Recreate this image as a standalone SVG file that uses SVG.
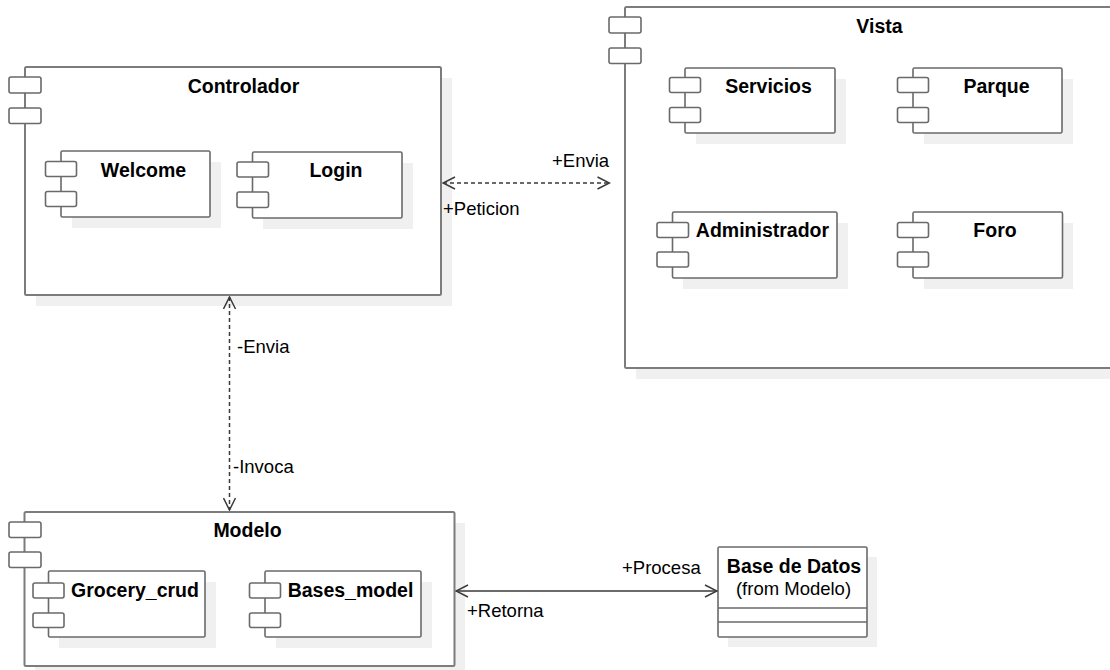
<svg xmlns="http://www.w3.org/2000/svg" width="1110" height="670" viewBox="0 0 1110 670">
  <defs>
    <style>
      .shadow { fill: #f0f0f0; stroke: none; }
      .outer { fill: #ffffff; stroke: #7c7c7c; stroke-width: 2; }
      .inner { fill: #ffffff; stroke: #6a6a6a; stroke-width: 1.6; }
      .icon { fill: #ffffff; stroke: #6a6a6a; stroke-width: 1.6; }
      .title { font-family: "Liberation Sans", Arial, sans-serif; font-weight: bold; font-size: 19.5px; fill: #000; text-anchor: middle; }
      .label { font-family: "Liberation Sans", Arial, sans-serif; font-size: 18.5px; fill: #000; }
      .dep { fill: none; stroke: #3a3a3a; stroke-width: 1.5; stroke-dasharray: 4 3; }
      .assoc { fill: none; stroke: #3a3a3a; stroke-width: 1.5; }
      .head { fill: none; stroke: #3a3a3a; stroke-width: 1.5; }
    </style>
    <marker id="open" viewBox="0 0 14 14" refX="13" refY="7" markerWidth="14" markerHeight="14" markerUnits="userSpaceOnUse" orient="auto-start-reverse">
      <path d="M1,1 L13,7 L1,13" class="head"/>
    </marker>
  </defs>

  <!-- Controlador package -->
  <g id="controlador">
    <rect class="shadow" x="36" y="78" width="416" height="228"/>
    <rect class="outer" x="25" y="67" width="416" height="228" rx="1.5"/>
    <rect class="icon" x="9" y="77" width="32" height="16" rx="2"/>
    <rect class="icon" x="9" y="108" width="32" height="15.5" rx="2"/>
    <text class="title" x="243.5" y="93">Controlador</text>
  </g>
  <g id="welcome">
    <rect class="shadow" x="72" y="162" width="149" height="66"/>
    <rect class="inner" x="61" y="151" width="149" height="66" rx="1.5"/>
    <rect class="icon" x="45.5" y="161.5" width="31" height="15" rx="2"/>
    <rect class="icon" x="45.5" y="191.5" width="31" height="15" rx="2"/>
    <text class="title" x="143.5" y="177">Welcome</text>
  </g>
  <g id="login">
    <rect class="shadow" x="263" y="163" width="150" height="66"/>
    <rect class="inner" x="252.5" y="152" width="149.5" height="66" rx="1.5"/>
    <rect class="icon" x="237" y="162" width="31.5" height="15" rx="2"/>
    <rect class="icon" x="237" y="192" width="31.5" height="15.5" rx="2"/>
    <text class="title" x="336" y="177">Login</text>
  </g>

  <!-- Vista package -->
  <g id="vista">
    <rect class="shadow" x="636" y="18" width="500" height="361"/>
    <rect class="outer" x="625" y="7" width="500" height="361" rx="1.5"/>
    <rect class="icon" x="609" y="17" width="32" height="16" rx="2"/>
    <rect class="icon" x="609" y="48" width="32" height="15.5" rx="2"/>
    <text class="title" x="879.5" y="33">Vista</text>
  </g>
  <g id="servicios">
    <rect class="shadow" x="696" y="79" width="150" height="65"/>
    <rect class="inner" x="685" y="68" width="150" height="65" rx="1.5"/>
    <rect class="icon" x="669.5" y="77.5" width="31" height="15" rx="2"/>
    <rect class="icon" x="669.5" y="107.5" width="31" height="15" rx="2"/>
    <text class="title" x="768.5" y="93">Servicios</text>
  </g>
  <g id="parque">
    <rect class="shadow" x="924" y="79" width="149" height="65"/>
    <rect class="inner" x="913" y="68" width="149" height="65" rx="1.5"/>
    <rect class="icon" x="897.5" y="77.5" width="31" height="15" rx="2"/>
    <rect class="icon" x="897.5" y="107.5" width="31" height="15" rx="2"/>
    <text class="title" x="996.5" y="93">Parque</text>
  </g>
  <g id="administrador">
    <rect class="shadow" x="683" y="223" width="165" height="66"/>
    <rect class="inner" x="672.5" y="212" width="164.5" height="66" rx="1.5"/>
    <rect class="icon" x="657" y="222.5" width="31.5" height="15" rx="2"/>
    <rect class="icon" x="657" y="252" width="31.5" height="15" rx="2"/>
    <text class="title" x="762.5" y="237">Administrador</text>
  </g>
  <g id="foro">
    <rect class="shadow" x="924" y="223" width="149" height="66"/>
    <rect class="inner" x="913" y="212" width="149.5" height="66" rx="1.5"/>
    <rect class="icon" x="897.5" y="222.5" width="31" height="15" rx="2"/>
    <rect class="icon" x="897.5" y="252" width="31" height="15" rx="2"/>
    <text class="title" x="995" y="237">Foro</text>
  </g>

  <!-- Modelo package -->
  <g id="modelo">
    <rect class="shadow" x="35" y="523" width="430" height="155"/>
    <rect class="outer" x="24.5" y="512" width="430" height="154" rx="1.5"/>
    <rect class="icon" x="9" y="522" width="32" height="15.5" rx="2"/>
    <rect class="icon" x="9" y="552" width="32" height="15.5" rx="2"/>
    <text class="title" x="247.5" y="537">Modelo</text>
  </g>
  <g id="grocery_crud">
    <rect class="shadow" x="59" y="582" width="157" height="66"/>
    <rect class="inner" x="48.5" y="571" width="156.5" height="66" rx="1.5"/>
    <rect class="icon" x="33" y="583" width="31" height="15" rx="2"/>
    <rect class="icon" x="33" y="613" width="31" height="14.5" rx="2"/>
    <text class="title" x="135" y="597">Grocery_crud</text>
  </g>
  <g id="bases_model">
    <rect class="shadow" x="276" y="582" width="156" height="66"/>
    <rect class="inner" x="265" y="571" width="156" height="66" rx="1.5"/>
    <rect class="icon" x="249.5" y="583" width="31" height="15" rx="2"/>
    <rect class="icon" x="249.5" y="613" width="31" height="14.5" rx="2"/>
    <text class="title" x="350.5" y="597">Bases_model</text>
  </g>

  <!-- Base de Datos class -->
  <g id="base_de_datos">
    <rect class="shadow" x="728" y="557" width="149" height="90"/>
    <rect class="inner" x="718" y="547" width="149" height="90" rx="1.5"/>
    <line x1="718" y1="608" x2="867" y2="608" stroke="#6a6a6a" stroke-width="1.6"/>
    <line x1="718" y1="622" x2="867" y2="622" stroke="#6a6a6a" stroke-width="1.6"/>
    <text class="title" x="794" y="573">Base de Datos</text>
    <text class="label" x="793.5" y="595" text-anchor="middle">(from Modelo)</text>
  </g>

  <!-- Connectors -->
  <g id="connectors">
    <line class="dep" x1="443" y1="183" x2="609.5" y2="183" marker-start="url(#open)" marker-end="url(#open)"/>
    <text class="label" x="552" y="167">+Envia</text>
    <text class="label" x="443" y="215">+Peticion</text>

    <line class="dep" x1="229.5" y1="297" x2="229.5" y2="510" marker-start="url(#open)" marker-end="url(#open)"/>
    <text class="label" x="237" y="353">-Envia</text>
    <text class="label" x="233" y="473">-Invoca</text>

    <line class="assoc" x1="456" y1="591" x2="717" y2="591" marker-start="url(#open)" marker-end="url(#open)"/>
    <text class="label" x="622" y="574">+Procesa</text>
    <text class="label" x="467" y="617">+Retorna</text>
  </g>
</svg>
